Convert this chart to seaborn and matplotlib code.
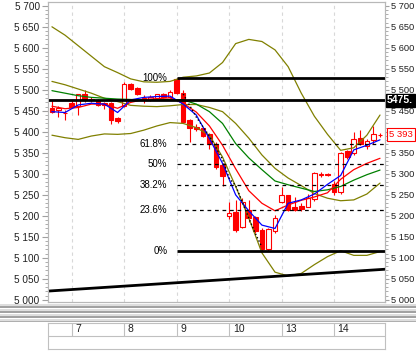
import matplotlib
matplotlib.use("Agg")
import matplotlib.pyplot as plt
import seaborn as sns
from matplotlib.ticker import MultipleLocator, FuncFormatter

sns.set_style("white")
plt.rcParams['font.family'] = ['Liberation Sans', 'DejaVu Sans']

# candle data (hourly bars, 8 per day)
opens = [5457, 5453, 5446, 5469, 5462, 5489, 5478, 5476, 5468, 5468, 5433,
         5461, 5513, 5505, 5476, 5478, 5481, 5489, 5483, 5526, 5492, 5428,
         5412, 5409, 5394, 5372, 5320, 5200, 5210, 5173, 5214, 5197, 5166,
         5120, 5165, 5233, 5249, 5222, 5223, 5222, 5240, 5298, 5300, 5275,
         5257, 5354, 5349, 5386, 5366, 5380, 5392]
highs = [5475, 5462, 5452, 5476, 5490, 5499, 5482, 5478, 5470, 5470, 5436,
         5519, 5516, 5507, 5487, 5488, 5490, 5492, 5500, 5529, 5500, 5430,
         5418, 5412, 5398, 5375, 5325, 5233, 5237, 5243, 5237, 5200, 5170,
         5170, 5202, 5268, 5250, 5245, 5230, 5252, 5305, 5305, 5302, 5282,
         5352, 5357, 5400, 5404, 5382, 5414, 5398]
lows = [5445, 5435, 5428, 5456, 5440, 5470, 5472, 5462, 5455, 5418, 5420,
        5458, 5499, 5487, 5468, 5474, 5478, 5480, 5480, 5490, 5420, 5376,
        5402, 5388, 5358, 5312, 5272, 5193, 5162, 5170, 5186, 5160, 5117,
        5117, 5160, 5230, 5212, 5212, 5212, 5220, 5236, 5292, 5294, 5249,
        5252, 5335, 5345, 5368, 5359, 5370, 5388]
closes = [5448, 5456, 5444, 5460, 5489, 5477, 5476, 5465, 5463, 5428, 5426,
          5513, 5502, 5489, 5480, 5483, 5489, 5482, 5495, 5493, 5424, 5408,
          5406, 5391, 5370, 5316, 5296, 5207, 5166, 5233, 5196, 5165, 5122,
          5168, 5194, 5249, 5214, 5214, 5217, 5242, 5303, 5299, 5298, 5257,
          5349, 5340, 5384, 5372, 5379, 5394, 5393]

# indicator lines, read every second bar
line_x = list(range(0, 51, 2))
upper_band = [5650, 5630, 5605, 5580, 5555, 5541, 5526, 5519, 5518, 5520, 5530,
              5533, 5540, 5565, 5610, 5620, 5615, 5595, 5555, 5492, 5437, 5394,
              5356, 5362, 5392, 5440]
mid_band = [5520, 5512, 5502, 5492, 5480, 5472, 5463, 5461, 5460, 5462, 5465,
            5465, 5458, 5448, 5420, 5385, 5345, 5313, 5290, 5272, 5253, 5242,
            5236, 5238, 5252, 5278]
lower_band = [5392, 5386, 5382, 5390, 5395, 5394, 5396, 5404, 5414, 5422, 5420,
              5410, 5392, 5340, 5270, 5195, 5112, 5066, 5057, 5063, 5084, 5103,
              5117, 5106, 5106, 5115]
green_ma = [5498, 5492, 5486, 5482, 5480, 5478, 5477, 5476, 5476, 5477, 5476,
            5466, 5448, 5420, 5372, 5338, 5310, 5283, 5274, 5266, 5258, 5262,
            5270, 5285, 5298, 5309]
red_ma = [5461, 5455, 5458, 5466, 5466, 5456, 5470, 5477, 5479, 5481, 5468,
          5447, 5414, 5368, 5312, 5260, 5230, 5212, 5226, 5237, 5245, 5255,
          5287, 5310, 5325, 5337]
blue_ma = [5448, 5446, 5464, 5468, 5466, 5446, 5476, 5482, 5484, 5485, 5466,
           5440, 5384, 5325, 5250, 5212, 5178, 5170, 5230, 5238, 5252, 5275,
           5296, 5357, 5368, 5381]
dots_x = [20, 22, 24, 26, 27, 28, 30, 31, 32]
dots_y = [5490, 5435, 5390, 5335, 5290, 5272, 5195, 5158, 5126]

# fibonacci retracement and other drawn levels
fib_low, fib_high = 5117, 5529
fib_ratios = [0, 23.6, 38.2, 50, 61.8, 100]
fib_start = 19
level_line = 5475
trend_x = [-0.6, 50.8]
trend_y = [5021, 5073]
last_price = 5393
hidden_right = [5400]  # covered by the price box

day_labels = ["7", "8", "9", "10", "13", "14"]
day_starts = [3, 11, 19, 27, 35, 43]

RED = "#ff0000"
OLIVE = "#808000"
XLIM = (-0.6, 50.76)
YLIM = (4995, 5709)

fmt = lambda v: f"{int(round(v)):,}".replace(",", " ")

fig = plt.figure(figsize=(4.16, 3.56), dpi=100)
ax = fig.add_axes([48 / 416, 54 / 356, 337 / 416, 300 / 356])
ax.set_xlim(*XLIM)
ax.set_ylim(*YLIM)

for d in day_starts:
    ax.axvline(d, color="#d8d8d8", lw=0.8, ls=(0, (3, 3)), zorder=1)

# candles
idx = list(range(len(opens)))
ax.vlines(idx, lows, highs, color=RED, lw=0.8, zorder=3)
for i, o, c in zip(idx, opens, closes):
    face = RED if c < o else "white"
    ax.bar(i, max(abs(c - o), 0.5), bottom=min(o, c), width=0.7,
           facecolor=face, edgecolor=RED, lw=0.8, zorder=4)

# indicators
for vals, col in [(upper_band, OLIVE), (mid_band, OLIVE), (lower_band, OLIVE),
                  (green_ma, "#008000"), (red_ma, RED), (blue_ma, "#0000ff")]:
    sns.lineplot(x=line_x, y=vals, color=col, lw=0.9, ax=ax, legend=False, zorder=5)
sns.lineplot(x=dots_x, y=dots_y, color="black", lw=1, ls=":", ax=ax, legend=False, zorder=5)

# fib levels
for r in fib_ratios:
    lvl = fib_low + r / 100 * (fib_high - fib_low)
    solid = r in (0, 100)
    ax.hlines(lvl, fib_start, XLIM[1], color="black",
              lw=2.0 if solid else 0.9, ls="-" if solid else (0, (3, 3)), zorder=6)
    ax.text(fib_start - 1.4, lvl, f"{r:g}%", ha="right", va="center",
            fontsize=7, color="black", zorder=7)

ax.axhline(level_line, color="black", lw=2.0, zorder=6)
sns.lineplot(x=trend_x, y=trend_y, color="black", lw=2.0, ax=ax, legend=False, zorder=6)

# left axis
ax.yaxis.set_major_locator(MultipleLocator(50))
ax.yaxis.set_minor_locator(MultipleLocator(10))
ax.yaxis.set_major_formatter(FuncFormatter(lambda v, p: fmt(v)))
ax.tick_params(axis="y", which="both", left=True, right=False, labelleft=True,
               labelright=False, colors="#a0a0a0", labelcolor="#202020",
               labelsize=7.2, pad=2)
ax.tick_params(axis="y", which="major", length=4, width=0.8)
ax.tick_params(axis="y", which="minor", length=2.5, width=0.6)
ax.set_xticks([])

# right axis
ax2 = ax.twinx()
ax2.set_ylim(*YLIM)
ax2.yaxis.set_major_locator(MultipleLocator(50))
ax2.yaxis.set_minor_locator(MultipleLocator(10))
ax2.yaxis.set_major_formatter(FuncFormatter(
    lambda v, p: "" if int(round(v)) in hidden_right else fmt(v)))
ax2.tick_params(axis="y", which="both", colors="#a0a0a0", labelcolor="#202020",
                labelsize=6.7, pad=1)
ax2.tick_params(axis="y", which="major", length=3, width=0.8)
ax2.tick_params(axis="y", which="minor", length=2, width=0.6)
for a in (ax, ax2):
    for s in a.spines.values():
        s.set_color("#b8b8b8")
        s.set_linewidth(0.8)

ax2.annotate("5475.", xy=(1.0, level_line), xycoords=("axes fraction", "data"),
             xytext=(1.5, 0), textcoords="offset points", ha="left", va="center",
             fontsize=7.5, color="white", fontweight="bold",
             bbox=dict(boxstyle="square,pad=0.15", fc="black", ec="black"),
             annotation_clip=False, zorder=8)
ax2.annotate(fmt(last_price), xy=(1.0, last_price),
             xycoords=("axes fraction", "data"),
             xytext=(3, 0), textcoords="offset points", ha="left", va="center",
             fontsize=6.8, color=RED,
             bbox=dict(boxstyle="square,pad=0.2", fc="white", ec=RED, lw=0.8),
             annotation_clip=False, zorder=8)

# splitter bar
sp = fig.add_axes([0, 34 / 356, 1, 19 / 356])
sp.set_xlim(0, 1)
sp.set_ylim(19, 0)
sp.axis("off")
for yy, col in [(1.5, "#d8d8d8"), (4, "#909090"), (6.5, "#d8d8d8"), (9, "#909090"),
                (11.5, "#d8d8d8"), (14, "#909090"), (16.5, "#d8d8d8"), (18.5, "#a0a0a0")]:
    sp.axhline(yy, color=col, lw=1.2)

# date row
dx = fig.add_axes([48 / 416, 7 / 356, 337 / 416, 26 / 356])
dx.set_xlim(*XLIM)
dx.set_ylim(0, 2)
dx.set_xticks([])
dx.set_yticks([])
for s in dx.spines.values():
    s.set_color("#c0c0c0")
    s.set_linewidth(0.8)
dx.axhline(1, color="#c0c0c0", lw=0.8)
dx.vlines(day_starts, 1, 2, color="#c0c0c0", lw=0.8)
for d, lab in zip(day_starts, day_labels):
    dx.text(d + 0.55, 1.5, lab, ha="left", va="center", fontsize=7.5, color="#202020")

fig.savefig("out.png", dpi=100)
